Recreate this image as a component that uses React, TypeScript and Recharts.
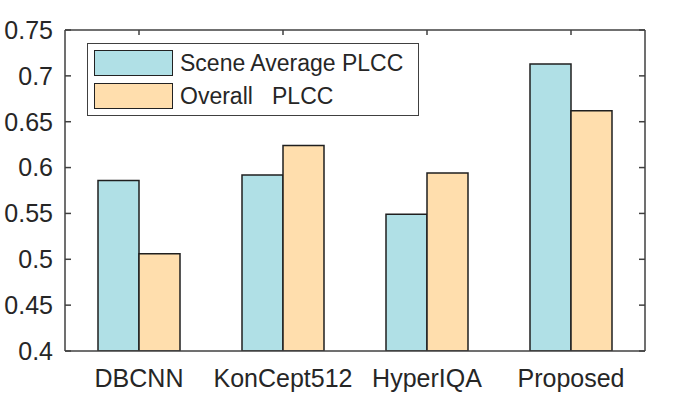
import React from "react";
import { Bar, BarChart, Legend, XAxis, YAxis } from "recharts";

const categories = ["DBCNN", "KonCept512", "HyperIQA", "Proposed"];
const sceneAveragePlcc = [0.586, 0.592, 0.549, 0.713];
const overallPlcc = [0.506, 0.624, 0.594, 0.662];
const seriesNames = ["Scene Average PLCC", "Overall   PLCC"];
const yTicks = [0.4, 0.45, 0.5, 0.55, 0.6, 0.65, 0.7, 0.75];

const FONT = '"Liberation Sans", Arial, Helvetica, sans-serif';
const TEXT = "#262626";
const AXIS = "#404040";
const COLORS = ["#B0E0E6", "#FFDEAD"];

const data = categories.map((name, i) => ({
  name,
  scene: sceneAveragePlcc[i],
  overall: overallPlcc[i],
}));

// tick lines only, no label
const noLabel = () => <g />;

function LegendBox() {
  return (
    <div
      style={{
        width: 332,
        height: 73,
        boxSizing: "border-box",
        border: `1.5px solid ${AXIS}`,
        background: "#fff",
        position: "relative",
        fontFamily: FONT,
      }}
    >
      {seriesNames.map((label, i) => (
        <div
          key={label}
          style={{ position: "absolute", left: 6, top: 6 + i * 32.6, height: 26, display: "flex", alignItems: "center" }}
        >
          <div
            style={{
              width: 79,
              height: 26,
              boxSizing: "border-box",
              background: COLORS[i],
              border: "1.5px solid #222",
            }}
          />
          <span style={{ marginLeft: 7, fontSize: 23, color: TEXT, whiteSpace: "pre", lineHeight: "26px" }}>{label}</span>
        </div>
      ))}
    </div>
  );
}

export default function App() {
  return (
    <div style={{ position: "absolute", left: 0, top: 0, background: "#fff", fontFamily: FONT }}>
      <BarChart
        width={685}
        height={394}
        data={data}
        margin={{ top: 30, right: 40, bottom: 0, left: 0 }}
        barSize={41}
        barGap={0}
      >
        <XAxis
          xAxisId="cat"
          dataKey="name"
          height={43}
          padding={{ left: 2, right: 2 }}
          tickLine={false}
          tickMargin={12}
          axisLine={{ stroke: AXIS, strokeWidth: 1.5 }}
          tick={{ fontSize: 25, fill: TEXT, fontFamily: FONT }}
        />
        <XAxis
          xAxisId="top"
          dataKey="name"
          orientation="top"
          mirror
          padding={{ left: 2, right: 2 }}
          tick={noLabel}
          tickSize={5}
          tickLine={{ stroke: AXIS, strokeWidth: 1.5 }}
          axisLine={{ stroke: AXIS, strokeWidth: 1.5 }}
        />
        <YAxis
          yAxisId="left"
          width={65}
          domain={[0.4, 0.75]}
          ticks={yTicks}
          allowDataOverflow
          tickLine={false}
          tickMargin={6}
          axisLine={{ stroke: AXIS, strokeWidth: 1.5 }}
          tick={{ fontSize: 25, fill: TEXT, fontFamily: FONT }}
        />
        <YAxis
          yAxisId="leftIn"
          mirror
          domain={[0.4, 0.75]}
          ticks={yTicks}
          allowDataOverflow
          tick={noLabel}
          tickSize={6}
          axisLine={false}
          tickLine={{ stroke: AXIS, strokeWidth: 1.5 }}
        />
        <YAxis
          yAxisId="right"
          orientation="right"
          mirror
          domain={[0.4, 0.75]}
          ticks={yTicks}
          allowDataOverflow
          tick={noLabel}
          tickSize={6}
          axisLine={{ stroke: AXIS, strokeWidth: 1.5 }}
          tickLine={{ stroke: AXIS, strokeWidth: 1.5 }}
        />
        <Legend
          layout="horizontal"
          verticalAlign="middle"
          align="center"
          wrapperStyle={{ left: 87, top: 43, width: 332, height: 73 }}
          content={() => <LegendBox />}
        />
        <Bar
          xAxisId="cat"
          yAxisId="left"
          dataKey="scene"
          name={seriesNames[0]}
          fill={COLORS[0]}
          stroke="#1f1f1f"
          strokeWidth={1.5}
          isAnimationActive={false}
        />
        <Bar
          xAxisId="cat"
          yAxisId="left"
          dataKey="overall"
          name={seriesNames[1]}
          fill={COLORS[1]}
          stroke="#1f1f1f"
          strokeWidth={1.5}
          isAnimationActive={false}
        />
      </BarChart>
    </div>
  );
}
